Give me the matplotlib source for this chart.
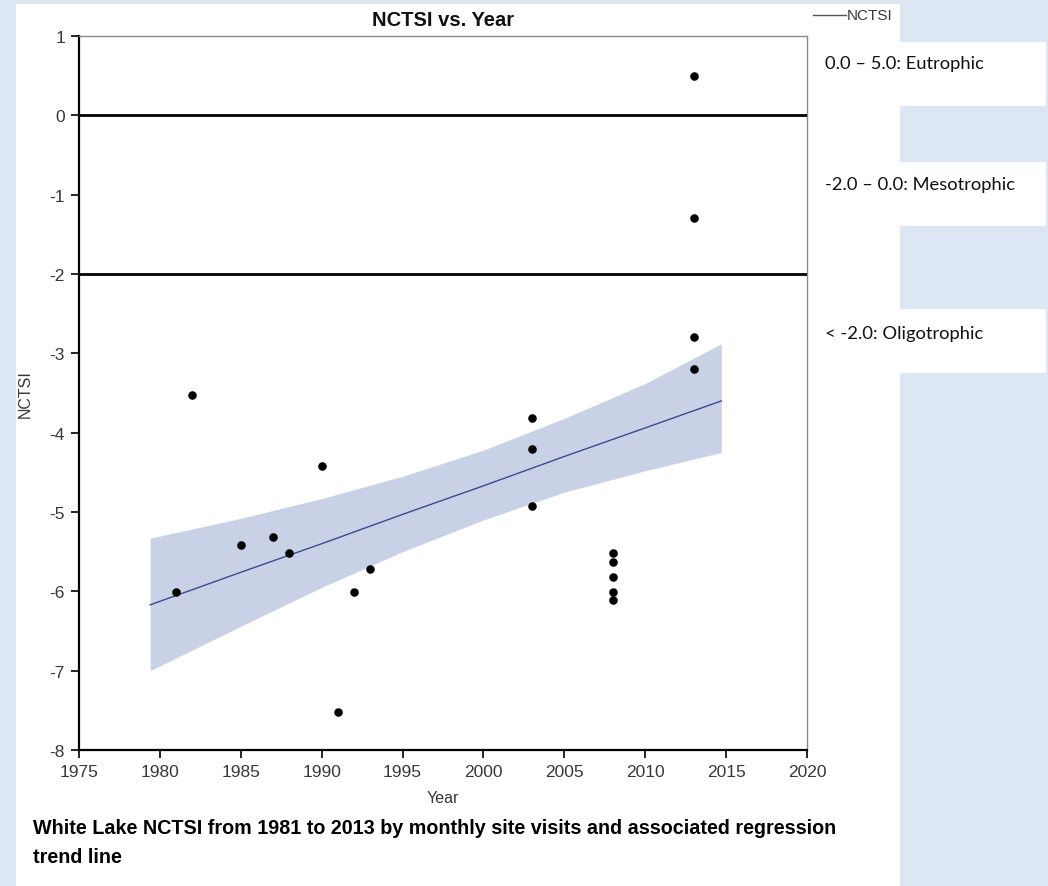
import matplotlib
matplotlib.use("Agg")
import matplotlib.pyplot as plt
from matplotlib.patches import Rectangle

W, H = 1048, 887

# values
years = [1981, 1982, 1985, 1987, 1988, 1990, 1991, 1992, 1993,
         2003, 2003, 2003,
         2008, 2008, 2008, 2008, 2008,
         2013, 2013, 2013, 2013]
nctsi = [-6.01, -3.52, -5.42, -5.31, -5.52, -4.42, -7.52, -6.01, -5.72,
         -3.82, -4.21, -4.92,
         -5.52, -5.63, -5.82, -6.01, -6.11,
         0.50, -1.30, -2.80, -3.20]

# regression line and its confidence band
band_years = [1979.4, 1985, 1990, 1995, 2000, 2005, 2010, 2014.7]
fit_vals = [-6.17, -5.76, -5.40, -5.03, -4.67, -4.30, -3.94, -3.60]
band_hi = [-5.33, -5.08, -4.83, -4.55, -4.22, -3.82, -3.38, -2.88]
band_lo = [-7.00, -6.44, -5.95, -5.50, -5.10, -4.75, -4.48, -4.25]

class_limits = [0, -2]
class_labels = ["0.0 \u2013 5.0: Eutrophic", "-2.0 \u2013 0.0: Mesotrophic", "< -2.0: Oligotrophic"]

xticks = list(range(1975, 2021, 5))
yticks = list(range(-8, 2))

caption_lines = ["White Lake NCTSI from 1981 to 2013 by monthly site visits and associated regression",
                 "trend line"]

BG = "#dce7f3"
TXT = "#383838"


def fx(px):
    return px / W


def fy(py):
    return 1 - py / H


fig = plt.figure(figsize=(W / 100, H / 100), dpi=100, facecolor=BG)

# white page panels
fig.patches.append(Rectangle((fx(16), fy(887)), fx(900) - fx(16), fy(5) - fy(887),
                             transform=fig.transFigure, facecolor="white", edgecolor="none", zorder=-5))
box_rows = [(43, 107), (163, 227), (310, 374)]
for top, bot in box_rows:
    fig.patches.append(Rectangle((fx(899), fy(bot)), fx(1046) - fx(899), fy(top) - fy(bot),
                                 transform=fig.transFigure, facecolor="white", edgecolor="none", zorder=-5))

ax = fig.add_axes([fx(79), fy(751), fx(807) - fx(79), fy(37) - fy(751)])
ax.set_zorder(2)
ax.set_facecolor("white")

ax.fill_between(band_years, band_lo, band_hi, color="#c9d1e7", linewidth=0, zorder=1)
ax.plot(band_years, fit_vals, color="#3d4a8c", linewidth=1.0, zorder=2)
for lim in class_limits:
    ax.axhline(lim, color="black", linewidth=2.0, zorder=3)
ax.scatter(years, nctsi, s=38, color="black", zorder=4, linewidths=0)

ax.set_xlim(1975, 2020)
ax.set_ylim(-8, 1)
ax.set_xticks(xticks)
ax.set_yticks(yticks)

fam = ["Liberation Sans", "DejaVu Sans"]
ax.set_xticklabels([str(t) for t in xticks], fontsize=12.5, color=TXT, family=fam)
ax.set_yticklabels([str(t) for t in yticks], fontsize=12.5, color=TXT, family=fam)
ax.tick_params(direction="out", length=6, width=1.2, color="black", pad=4)

for side in ["left", "bottom"]:
    ax.spines[side].set_color("black")
    ax.spines[side].set_linewidth(1.6)
for side in ["top", "right"]:
    ax.spines[side].set_color("#8a8a8a")
    ax.spines[side].set_linewidth(1.0)

ax.set_xlabel("Year", fontsize=11.5, color=TXT, family=fam, labelpad=8)
ax.set_ylabel("NCTSI", fontsize=11.5, color=TXT, family=fam, labelpad=12)
ax.set_title("NCTSI vs. Year", fontsize=14.5, fontweight="bold", color="#111111", family=fam, pad=8)

# legend entry at top right
fig.add_artist(plt.Line2D([fx(813), fx(846)], [fy(16), fy(16)], color="#555555", linewidth=1.0,
                          transform=fig.transFigure))
fig.text(fx(847), fy(16), "NCTSI", fontsize=11, color=TXT, family=fam, va="center", ha="left")

# trophic class labels
label_rows = [64, 185, 334]
for lab, yy in zip(class_labels, label_rows):
    fig.text(fx(825), fy(yy), lab, fontsize=13.2, color="#111111", family=["Lato", "DejaVu Sans"],
             va="center", ha="left")

for line, yy in zip(caption_lines, [829, 858]):
    fig.text(fx(33), fy(yy), line, fontsize=14.2, fontweight="bold", color="black", family=fam,
             va="center", ha="left")

fig.savefig("out.png", dpi=100, facecolor=BG)
